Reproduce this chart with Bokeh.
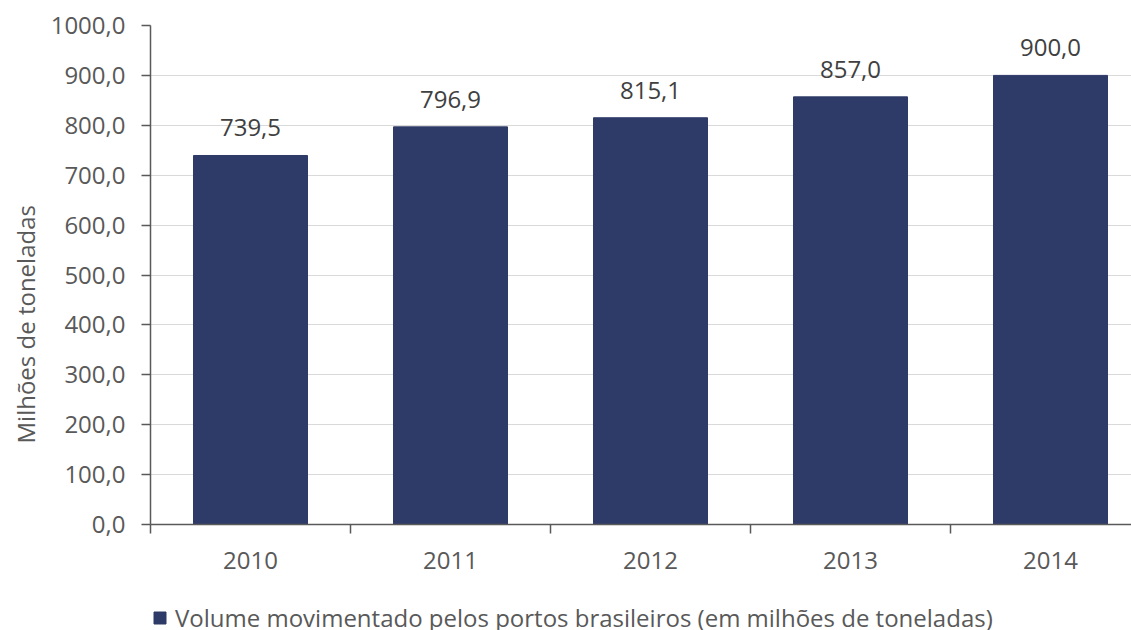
from bokeh.plotting import figure
from bokeh.layouts import column
from bokeh.models import (Range1d, FixedTicker, ColumnDataSource, Legend, LegendItem, Title)
from bokeh.core.properties import value
from bokeh.embed import file_html
from bokeh.resources import INLINE

# ---- data ----
categories = ["2010", "2011", "2012", "2013", "2014"]
volumes = [739.5, 796.9, 815.1, 857.0, 900.0]
y_ticks = [0, 100, 200, 300, 400, 500, 600, 700, 800, 900, 1000]
y_tick_labels = ["0,0", "100,0", "200,0", "300,0", "400,0", "500,0",
                 "600,0", "700,0", "800,0", "900,0", "1000,0"]
series_name = "Volume movimentado pelos portos brasileiros (em milhões de toneladas)"
y_title = "Milhões de toneladas"

FONT = "Open Sans"
FS = "24px"
BAR = "#2E3A67"
AX = "#595959"

centers = [i + 0.5 for i in range(len(categories))]
bounds = [float(i) for i in range(len(categories) + 1)]
labels = [f"{v:.1f}".replace(".", ",") for v in volumes]

src = ColumnDataSource(dict(x=centers, top=volumes, lab=labels))

p = figure(width=1131, height=580, output_backend="svg", toolbar_location=None,
           x_range=Range1d(0, 4.905), y_range=Range1d(0, 1000),
           min_border_left=150, min_border_right=0, min_border_top=25,
           min_border_bottom=56)
p.outline_line_color = None
p.background_fill_color = "white"
p.border_fill_color = "white"

bars = p.vbar(x="x", top="top", width=0.57, bottom=0, source=src,
              fill_color=BAR, line_color=BAR)

p.text(x="x", y="top", text="lab", source=src, text_align="center",
       text_baseline="bottom", y_offset=-19, text_font=value(FONT),
       text_font_size=FS, text_color="#404040")

# grid
p.xgrid.visible = False
p.ygrid.ticker = FixedTicker(ticks=y_ticks)
p.ygrid.grid_line_color = "#D9D9D9"
p.ygrid.grid_line_width = 1

# y axis
ya = p.yaxis[0]
ya.ticker = FixedTicker(ticks=y_ticks)
ya.major_label_overrides = {t: s for t, s in zip(y_ticks, y_tick_labels)}
ya.axis_line_color = AX
ya.axis_line_width = 1.5
ya.major_tick_line_color = AX
ya.major_tick_line_width = 1.5
ya.major_tick_out = 9
ya.major_tick_in = 0
ya.minor_tick_line_color = None
ya.major_label_standoff = 16
ya.major_label_text_font = FONT
ya.major_label_text_font_size = FS
ya.major_label_text_color = AX

# x axis
xa = p.xaxis[0]
xa.ticker = FixedTicker(ticks=centers, minor_ticks=bounds)
xa.major_label_overrides = {c: s for c, s in zip(centers, categories)}
xa.axis_line_color = AX
xa.axis_line_width = 1.5
xa.major_tick_out = 0
xa.major_tick_in = 0
xa.minor_tick_out = 9
xa.minor_tick_in = 0
xa.minor_tick_line_color = AX
xa.minor_tick_line_width = 1.5
xa.major_label_standoff = 18
xa.major_label_text_font = FONT
xa.major_label_text_font_size = FS
xa.major_label_text_color = AX

# y title
t = Title(text=y_title, align="left", offset=81, text_font=FONT,
          text_font_size=FS, text_color=AX, text_font_style="normal",
          standoff=12)
p.add_layout(t, "left")

# legend strip
p2 = figure(width=1131, height=60, output_backend="svg", toolbar_location=None,
            x_range=Range1d(0, 1), y_range=Range1d(0, 1),
            min_border_left=0, min_border_right=0, min_border_top=0,
            min_border_bottom=0)
p2.axis.visible = False
p2.grid.visible = False
p2.outline_line_color = None
r2 = p2.vbar(x=[5], top=[1], width=0.5, fill_color=BAR, line_color=BAR)
leg = Legend(items=[LegendItem(label=series_name, renderers=[r2])],
             location=(2, 6), orientation="horizontal",
             glyph_width=15, glyph_height=15, label_standoff=8,
             label_text_font=FONT, label_text_font_size=FS,
             label_text_color=AX, border_line_color=None,
             background_fill_alpha=0, padding=0, margin=0, spacing=0)
p2.add_layout(leg, "center")

layout = column(p, p2, spacing=0)
open("out.html", "w").write(file_html(layout, INLINE))
